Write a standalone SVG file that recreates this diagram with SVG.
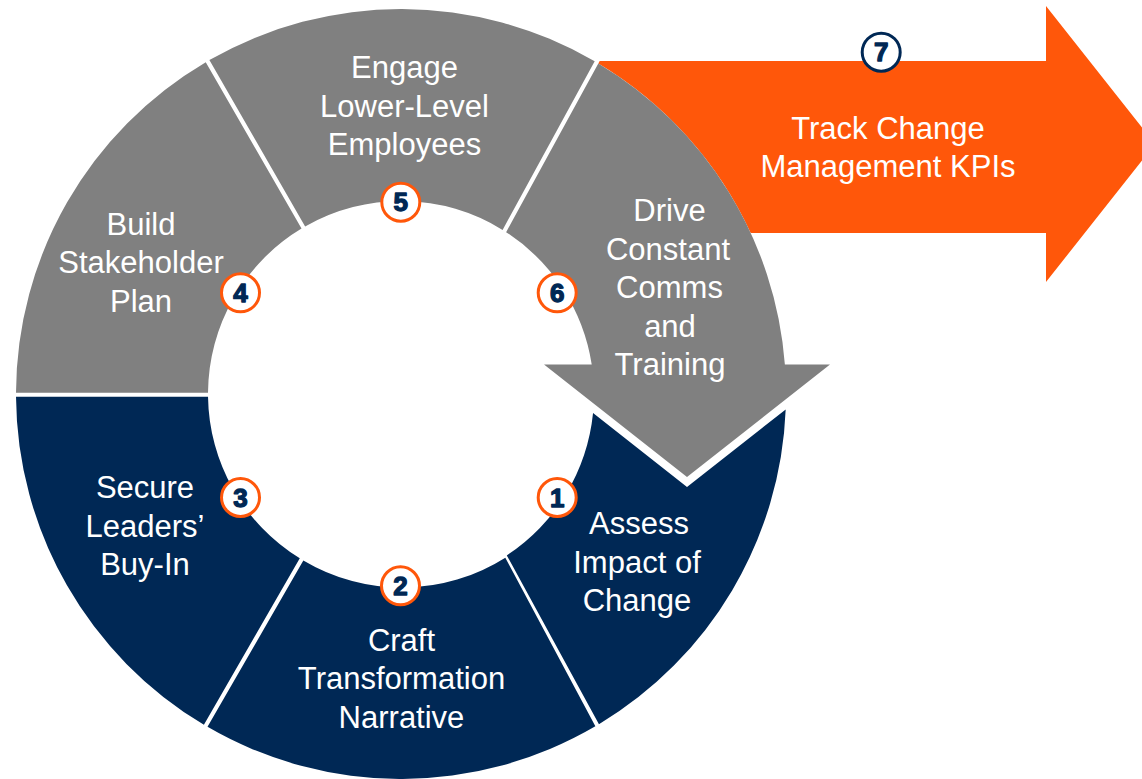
<svg xmlns="http://www.w3.org/2000/svg" width="1142" height="779" viewBox="0 0 1142 779">
<style>
.gray{fill:#808080}
.navy{fill:#002855}
.orange{fill:#FF570A}
.lbl{font-family:"Liberation Sans",Arial,sans-serif;font-size:31px;fill:#ffffff;text-anchor:middle}
.badge{fill:#ffffff;stroke:#FF570A;stroke-width:3}
.badge7{fill:#ffffff;stroke:#002855;stroke-width:3}
.num{font-family:"Liberation Sans",Arial,sans-serif;font-size:26px;font-weight:bold;fill:#002855;stroke:#002855;stroke-width:1.3;stroke-linejoin:round;text-anchor:middle}
</style>
<rect width="1142" height="779" fill="#ffffff"/>
<g id="node-7">
<path class="orange" d="M599.7,61 L1046,61 L1046,6 L1155,144 L1046,282 L1046,233 L750.7,233 A385,385 0 0 0 598.3,63.4 Z"/>
<text class="lbl"><tspan x="888" y="139.3">Track Change</tspan><tspan x="888" y="176.7">Management KPIs</tspan></text>
<circle class="badge7" cx="881.2" cy="52.2" r="19"/>
<text class="num" x="881.2" y="61.4">7</text>
</g>
<g id="node-4">
<path class="gray" d="M16,392.7 A385,385 0 0 1 205.76,62.18 L301.52,228.62 A193,193 0 0 0 208,392.7 Z"/>
<text class="lbl"><tspan x="141" y="235">Build</tspan><tspan x="141" y="273.3">Stakeholder</tspan><tspan x="141" y="311.7">Plan</tspan></text>
<circle class="badge" cx="240.5" cy="292.8" r="19"/>
<text class="num" x="240.5" y="302">4</text>
</g>
<g id="node-5">
<path class="gray" d="M209.39,60.07 A385,385 0 0 1 594.7,61.28 L502.6,229.9 A193,193 0 0 0 305.13,226.5 Z"/>
<text class="lbl"><tspan x="404.5" y="78.3">Engage</tspan><tspan x="404.5" y="117">Lower-Level</tspan><tspan x="404.5" y="155.3">Employees</tspan></text>
<circle class="badge" cx="400.8" cy="202.2" r="19"/>
<text class="num" x="400.8" y="211.4">5</text>
</g>
<g id="node-6">
<path class="gray" d="M598.31,63.4 A385,385 0 0 1 784.87,364.5 L830,364.5 L687,477 L544,364.5 L591.73,364.5 A193,193 0 0 0 506.11,232.13 Z"/>
<text class="lbl"><tspan x="669.5" y="220.7">Drive</tspan><tspan x="668" y="259.5">Constant</tspan><tspan x="669.5" y="298">Comms</tspan><tspan x="670" y="336.7">and</tspan><tspan x="670" y="375">Training</tspan></text>
<circle class="badge" cx="557.2" cy="292.8" r="19"/>
<text class="num" x="557.2" y="302">6</text>
</g>
<g id="node-1">
<path class="navy" d="M593.05,413.1 L687,487 L785.69,409.38 A385,385 0 0 1 598.96,724.2 L506.8,555.41 A193,193 0 0 0 593.05,413.1 Z"/>
<text class="lbl"><tspan x="639" y="534.3">Assess</tspan><tspan x="637" y="572.7">Impact of</tspan><tspan x="637" y="611">Change</tspan></text>
<circle class="badge" cx="557.2" cy="497.5" r="19"/>
<text class="num" x="557.2" y="506.7">1</text>
</g>
<g id="node-2">
<path class="navy" d="M595.36,726.35 A385,385 0 0 1 207.52,726.85 L303.34,560.46 A193,193 0 0 0 505.32,557.65 Z"/>
<text class="lbl"><tspan x="401.5" y="650.7">Craft</tspan><tspan x="401.5" y="689.3">Transformation</tspan><tspan x="401.5" y="727.7">Narrative</tspan></text>
<circle class="badge" cx="400.5" cy="585.8" r="19"/>
<text class="num" x="400.5" y="595">2</text>
</g>
<g id="node-3">
<path class="navy" d="M203.91,724.72 A385,385 0 0 1 16.01,396.7 L208.02,396.7 A193,193 0 0 0 299.79,558.34 Z"/>
<text class="lbl"><tspan x="145" y="498.3">Secure</tspan><tspan x="145" y="537">Leaders’</tspan><tspan x="145" y="575.3">Buy-In</tspan></text>
<circle class="badge" cx="240.5" cy="497.5" r="19"/>
<text class="num" x="240.5" y="506.7">3</text>
</g>
<g id="connectors"/>
</svg>
